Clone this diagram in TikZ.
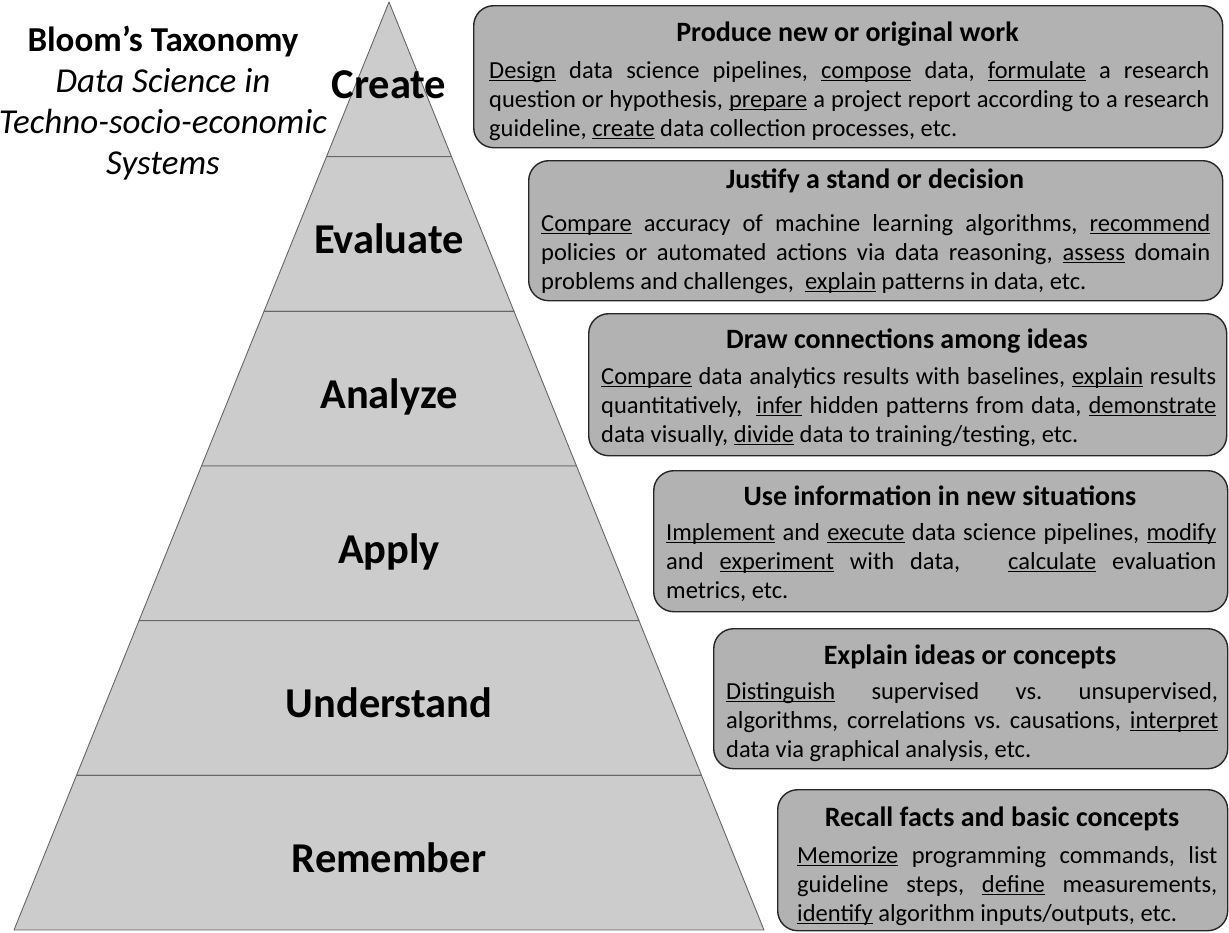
\documentclass[tikz,border=0pt]{standalone}
\usepackage{fontspec}
\setmainfont{Carlito}
\usetikzlibrary{calc}
\definecolor{pyr}{HTML}{CCCCCC}
\definecolor{pyrline}{HTML}{666666}
\definecolor{boxfill}{HTML}{B2B2B2}
\definecolor{boxline}{HTML}{262626}
\newcommand{\ulw}[1]{\leavevmode\setbox0\hbox{#1}\rlap{\rule[-3pt]{\wd0}{1.2pt}}\box0\relax}
\tikzset{
  layer/.style={fill=pyr, draw=pyrline, line width=0.9pt, line join=round},
  lvl/.style={font=\fontsize{42.5}{50}\selectfont\bfseries, inner sep=0pt, anchor=base},
  tbox/.style={draw=boxline, fill=boxfill, line width=1.4pt, rounded corners=20pt, anchor=north west, inner sep=0pt},
  ttl/.style={font=\fontsize{28}{33}\selectfont\bfseries, inner sep=0pt, anchor=base},
  bdy/.style={font=\fontsize{24.5}{29}\selectfont, inner sep=0pt, anchor=north west, align=justify,
    execute at begin node={\frenchspacing\tolerance=10000\relax\hyphenpenalty=10000\relax}},
  head/.style={font=\fontsize{35}{41}\selectfont, inner sep=0pt, anchor=north, align=center},
}
\begin{document}
\begin{tikzpicture}[x=1pt,y=-1pt]
\useasboundingbox (0,0) rectangle (1229,932);
% pyramid
\coordinate (apex) at (389,2);
\coordinate (bl) at (14,930);
\coordinate (br) at (764,930);
\foreach \i in {0,...,5} {
  \pgfmathsetmacro\fa{\i/6}
  \pgfmathsetmacro\fb{(\i+1)/6}
  \draw[layer] ($(apex)!\fa!(bl)$) -- ($(apex)!\fb!(bl)$) -- ($(apex)!\fb!(br)$) -- ($(apex)!\fa!(br)$) -- cycle;
}
\node[lvl] (lcreate) at (389,98) {Create};
\node[lvl] (levaluate) at (389,253) {Evaluate};
\node[lvl] (lanalyze) at (389,408) {Analyze};
\node[lvl] (lapply) at (389,563) {Apply};
\node[lvl] (lunderstand) at (389,717) {Understand};
\node[lvl] (lremember) at (389,872) {Remember};
% heading
\node[head] (heading) at (163,22.3) {\strut\textbf{Bloom’s Taxonomy}\\ \textit{Data Science in}\\ \textit{Techno-socio-economic}\\ \textit{Systems}};
% boxes
\node[tbox, minimum width=749pt, minimum height=142pt] (b1) at (473,5) {};
\node[tbox, minimum width=694pt, minimum height=140pt] (b2) at (528,160) {};
\node[tbox, minimum width=638pt, minimum height=142pt] (b3) at (588,313) {};
\node[tbox, minimum width=574pt, minimum height=141pt] (b4) at (653,470) {};
\node[tbox, minimum width=514pt, minimum height=140pt] (b5) at (713,628) {};
\node[tbox, minimum width=450pt, minimum height=141pt] (b6) at (777,789) {};
% titles
\node[ttl] (t1) at (847.5,41) {Produce new or original work};
\node[ttl] (t2) at (875,188) {Justify a stand or decision};
\node[ttl] (t3) at (907,348) {Draw connections among ideas};
\node[ttl] (t4) at (940,505) {Use information in new situations};
\node[ttl] (t5) at (970,664) {Explain ideas or concepts};
\node[ttl] (t6) at (1002,826) {Recall facts and basic concepts};
% bodies
\node[bdy, text width=720pt] (d1) at (489,57.7) {\strut\ulw{Design} data science pipelines, \ulw{compose} data, \ulw{formulate} a research\linebreak question or hypothesis, \ulw{prepare} a project report according to a research\linebreak guideline, \ulw{create} data collection processes, etc.};
\node[bdy, text width=669pt] (d2) at (541,210.7) {\strut\ulw{Compare} accuracy of machine learning algorithms, \ulw{recommend}\linebreak policies or automated actions via data reasoning, \ulw{assess} domain\linebreak problems and challenges,\ \ \ulw{explain} patterns in data, etc.};
\node[bdy, text width=615pt] (d3) at (601,363.7) {\strut\ulw{Compare} data analytics results with baselines, \ulw{explain} results\linebreak quantitatively,\ \ \ulw{infer} hidden patterns from data, \ulw{demonstrate}\linebreak data visually, \ulw{divide} data to training/testing, etc.};
\node[bdy, text width=550pt] (d4) at (666,519.7) {\strut\ulw{Implement} and \ulw{execute} data science pipelines, \ulw{modify}\linebreak and \ulw{experiment} with data,\ \ \ \ulw{calculate} evaluation\linebreak metrics, etc.};
\node[bdy, text width=492pt] (d5) at (726,678.7) {\strut\ulw{Distinguish} supervised vs. unsupervised,\linebreak algorithms, correlations vs. causations, \ulw{interpret}\linebreak data via graphical analysis, etc.};
\node[bdy, text width=420pt] (d6) at (797,842.7) {\strut\ulw{Memorize} programming commands, list\linebreak guideline steps, \ulw{define} measurements,\linebreak \ulw{identify} algorithm inputs/outputs, etc.};
\end{tikzpicture}
\end{document}
